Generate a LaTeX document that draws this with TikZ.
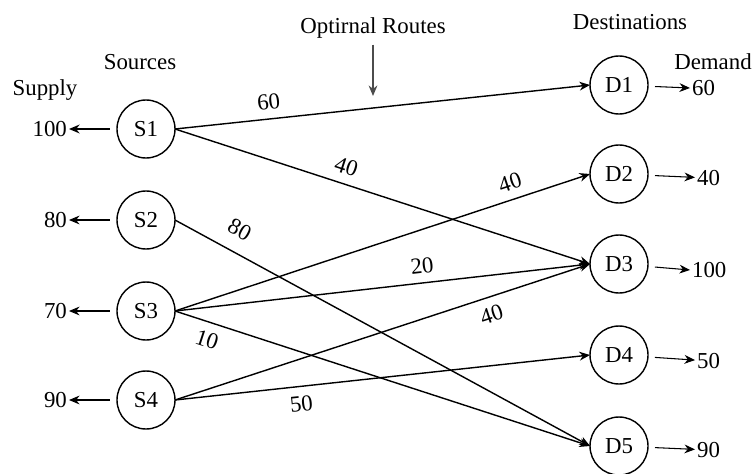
\documentclass[tikz,border=0pt]{standalone}
\usepackage{fontspec}
\setmainfont{Liberation Serif}
\usetikzlibrary{arrows.meta}

\begin{document}
\begin{tikzpicture}[
    x = 0.02cm,
    y = -0.02cm,
    >={Stealth[length=6pt,width=5pt]},
    font=\fontsize{13}{15}\selectfont,
    place/.style = {circle, draw, thick, minimum size=1.16cm,
              inner sep=0pt, outer sep=0pt},
    route/.style = {->, black, thick},
    amount/.style = {sloped, inner sep=5pt},
    qty/.style = {inner sep=1pt},
    ]

\useasboundingbox (0,0) rectangle (753,473);

% sources and destinations
\node[place] (src_1) at (146,129){S1};
\node[place] (src_2) at (146,220){S2};
\node[place] (src_3) at (146,311){S3};
\node[place] (src_4) at (146,400){S4};
\node[place] (dst_1) at (619,85){D1};
\node[place] (dst_2) at (619,174){D2};
\node[place] (dst_3) at (619,264){D3};
\node[place] (dst_4) at (619,355){D4};
\node[place] (dst_5) at (619,446){D5};

% headings
\node (sources) at (140,62){Sources};
\node (supply) at (45,90){Supply};
\node (dests) at (630,22){Destinations};
\node (demand) at (713,62){Demand};
\node (routes) at (373,28){Optirnal Routes};
\coordinate (routes_tip) at (373,96);
\draw [->, thick, black!70] (routes) -- (routes_tip);

% supply amounts
\node[qty, anchor=east] (sup_1) at (69,129){100};
\node[qty, anchor=east] (sup_2) at (69,220){80};
\node[qty, anchor=east] (sup_3) at (69,311){70};
\node[qty, anchor=east] (sup_4) at (69,400){90};
\draw [->, very thick, shorten <=4pt] (src_1) -- (sup_1);
\draw [->, semithick, shorten <=4pt] (src_2) -- (sup_2);
\draw [->, semithick, shorten <=4pt] (src_3) -- (sup_3);
\draw [->, semithick, shorten <=4pt] (src_4) -- (sup_4);

% demand amounts
\node[qty, anchor=west] (dem_1) at (690,88){60};
\node[qty, anchor=west] (dem_2) at (695,178){40};
\node[qty, anchor=west] (dem_3) at (690,270){100};
\node[qty, anchor=west] (dem_4) at (695,361){50};
\node[qty, anchor=west] (dem_5) at (695,450){90};
\draw [->, semithick, shorten <=4pt] (dst_1) -- (dem_1.west);
\draw [->, semithick, shorten <=4pt] (dst_2) -- (dem_2);
\draw [->, semithick, shorten <=4pt] (dst_3) -- (dem_3.west);
\draw [->, semithick, shorten <=4pt] (dst_4) -- (dem_4);
\draw [->, semithick, shorten <=4pt] (dst_5) -- (dem_5);

% optimal shipments
\draw [route] (src_1.east) to node [amount, pos=0.23, above]{60} (dst_1.west);
\draw [route] (src_1.east) to node [amount, pos=0.40, above]{40} (dst_3.west);
\draw [route] (src_2.east) to node [amount, pos=0.13, above, inner sep=8pt]{80} (dst_5.west);
\draw [route] (src_3.east) to node [amount, pos=0.82, above]{40} (dst_2.west);
\draw [route] (src_3.east) to node [amount, pos=0.60, above]{20} (dst_3.west);
\draw [route] (src_3.east) to node [amount, pos=0.09, below]{10} (dst_5.west);
\draw [route] (src_4.east) to node [amount, pos=0.75, below]{40} (dst_3.west);
\draw [route] (src_4.east) to node [amount, pos=0.30, below]{50} (dst_4.west);

\end{tikzpicture}
\end{document}
